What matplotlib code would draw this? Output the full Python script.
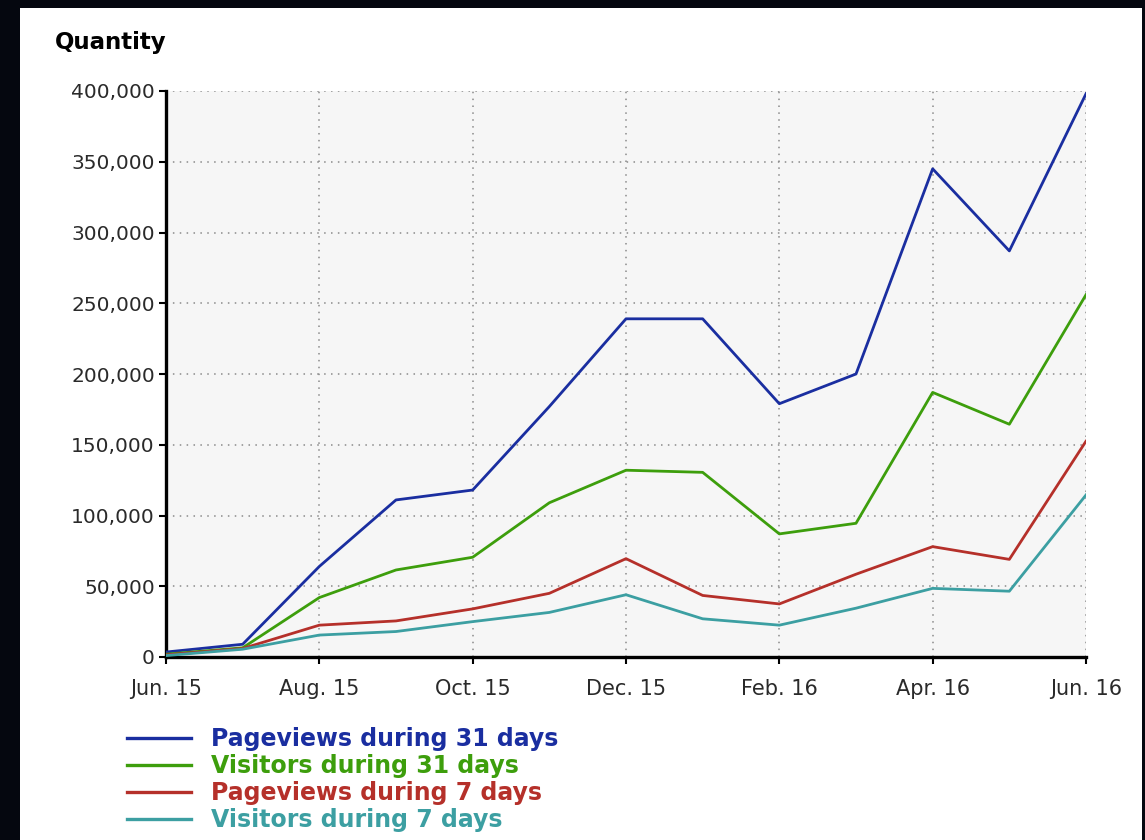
import matplotlib.pyplot as plt
from matplotlib.patches import Rectangle
from matplotlib.ticker import FuncFormatter

# monthly points, Jun. 15 .. Jun. 16
months = ["Jun. 15", "Jul. 15", "Aug. 15", "Sep. 15", "Oct. 15", "Nov. 15", "Dec. 15",
          "Jan. 16", "Feb. 16", "Mar. 16", "Apr. 16", "May. 16", "Jun. 16"]

pageviews_31 = [3500, 9000, 64000, 111000, 118000, 177000, 239000,
                239000, 179000, 200000, 345000, 287000, 398000]
visitors_31 = [2000, 6500, 42000, 61500, 70500, 109000, 132000,
               130500, 87000, 94500, 187000, 164500, 256000]
pageviews_7 = [1500, 6000, 22500, 25500, 34000, 45000, 69500,
               43500, 37500, 58500, 78000, 69000, 152500]
visitors_7 = [1000, 5500, 15500, 18000, 25000, 31500, 44000,
              27000, 22500, 34500, 48500, 46500, 114500]

series = [
    ("Pageviews during 31 days", pageviews_31, "#1a2ea0"),
    ("Visitors during 31 days", visitors_31, "#3d9e0c"),
    ("Pageviews during 7 days", pageviews_7, "#b5302a"),
    ("Visitors during 7 days", visitors_7, "#3c9fa2"),
]

plt.rcParams['font.family'] = ['DejaVu Sans']

W, H = 1145, 840
fig = plt.figure(figsize=(W / 100, H / 100), dpi=100, facecolor="#05070f")

# white panel behind the chart
fig.patches.append(Rectangle((20 / W, 0), 1122 / W, 1 - 8 / H, transform=fig.transFigure,
                             facecolor="white", edgecolor="none", zorder=-10))

ax = fig.add_axes([166 / W, 1 - 657 / H, 920 / W, 566 / H])
ax.set_facecolor("#f6f6f6")

x = list(range(len(months)))
for name, vals, col in series:
    ax.plot(x, vals, color=col, lw=2.0, label=name, zorder=3)

ax.set_xlim(0, len(months) - 1)
ax.set_ylim(0, 400000)
ax.set_xticks(x[::2])
ax.set_xticklabels(months[::2])
ax.set_yticks(range(0, 400001, 50000))
ax.yaxis.set_major_formatter(FuncFormatter(lambda v, p: f"{int(v):,}"))

ax.grid(True, color="#8a8a8a", linestyle=(0, (1, 3.5)), lw=1.1)
for s in ["top", "right"]:
    ax.spines[s].set_visible(False)
for s in ["left", "bottom"]:
    ax.spines[s].set_linewidth(2.4)
ax.tick_params(axis="x", length=5, width=1.5, pad=11, labelsize=15, labelcolor="#2a2a2a")
ax.tick_params(axis="y", length=5, width=1.5, pad=3, labelsize=14.5, labelcolor="#2a2a2a")

fig.text(55 / W, 1 - 42 / H, "Quantity", fontsize=16.5, fontweight="bold", va="center", ha="left")

leg = fig.legend(loc="upper left", bbox_to_anchor=(127 / W, 1 - 727 / H), frameon=False,
                 borderaxespad=0, borderpad=0, handlelength=2.7, handletextpad=0.85,
                 labelspacing=0.13, prop={"size": 17, "weight": "bold"}, labelcolor="linecolor")
for h in leg.get_lines():
    h.set_linewidth(2.4)

fig.savefig("out.png", dpi=100, facecolor=fig.get_facecolor())
